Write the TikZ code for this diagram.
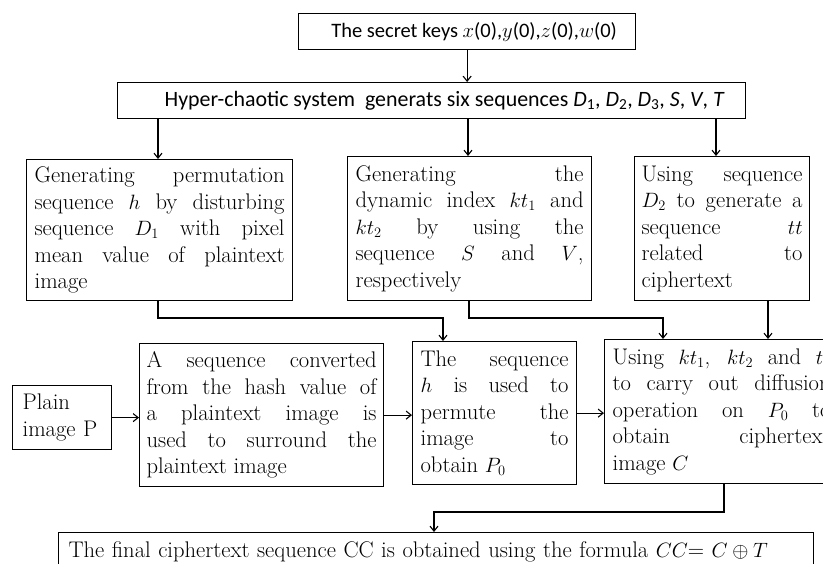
\documentclass[tikz,border=0pt]{standalone}
\usepackage{fontspec}
\newfontfamily\calfont{Carlito}
\usetikzlibrary{arrows.meta,calc}
\hyphenpenalty=10000 \exhyphenpenalty=10000 \tolerance=10000
\begin{document}
\begin{tikzpicture}[x=1pt,y=-1pt,
  sbox/.style={draw, line width=1.2pt, anchor=north west, inner sep=0pt, align=center,
    font={\calfont\fontsize{20.5}{24}\selectfont}},
  tbox/.style={draw, line width=1.2pt, anchor=north west, inner ysep=0pt, align=justify,
    font={\fontsize{22.6}{26.5}\selectfont}},
  arr/.style={-{Straight Barb[length=5pt,width=8pt]}, line width=1.1pt}]
\clip (0,0) rectangle (823,563);
\fill[white] (0,0) rectangle (823,563);
% top boxes
\node[sbox, minimum width=337pt, minimum height=36pt] (keys) at (298,13)
  {\hspace*{14pt}The secret keys $x$(0),$y$(0),$z$(0),$w$(0)};
\node[sbox, minimum width=628pt, minimum height=36pt, font={\calfont\fontsize{21.9}{24}\selectfont}] (hyper) at (117,82)
  {\hspace*{26pt}Hyper-chaotic system\ \ generats six sequences \textit{D}\textsubscript{1}, \textit{D}\textsubscript{2}, \textit{D}\textsubscript{3}, \textit{S}, \textit{V}, \textit{T}};
% second row
\node[tbox, inner xsep=8pt, text width=250pt, minimum height=141pt] (gen1) at (26,159)
  {Generating permutation\linebreak sequence $h$ by disturbing\linebreak sequence $D_1$ with pixel\linebreak mean value of plaintext\linebreak image};
\node[tbox, inner xsep=8pt, text width=228pt, minimum height=144pt] (gen2) at (347,156)
  {Generating the\linebreak dynamic index $kt_1$ and\linebreak $kt_2$ by using the\linebreak sequence $S$ and $V$,\linebreak respectively};
\node[tbox, inner xsep=7pt, text width=161pt, minimum height=144pt] (gen3) at (634,156)
  {Using sequence\linebreak $D_2$ to generate a\linebreak sequence $tt$\linebreak related to\linebreak ciphertext};
% third row
\node[tbox, inner xsep=10pt, text width=79pt, minimum height=64pt, align=left] (plain) at (12,385)
  {Plain\\image P};
\node[tbox, inner xsep=7pt, text width=230pt, minimum height=143pt] (hash) at (139,343)
  {A sequence converted\linebreak from the hash value of\linebreak a plaintext image is\linebreak used to surround the\linebreak plaintext image};
\node[tbox, inner xsep=8pt, text width=148pt, minimum height=143pt] (perm) at (412,341)
  {The sequence\linebreak $h$ is used to\linebreak permute the\linebreak image to\linebreak obtain $P_0$};
\node[tbox, inner xsep=8pt, text width=218pt, minimum height=144pt] (diff) at (604,339)
  {Using $kt_1$, $kt_2$ and $tt$\linebreak to carry out diffusion\linebreak operation on $P_0$ to\linebreak obtain ciphertext\linebreak image $C$};
% final
\node[tbox, inner xsep=10pt, inner ysep=9.5pt, text width=735pt, align=left] (final) at (58,532)
  {The final ciphertext sequence CC is obtained using the formula $CC$=\ $C \oplus T$};
% connectors
\draw[arr] (keys.south) -- (keys.south |- hyper.north);
\draw[arr] (hyper.south -| 158,0) -- (gen1.north -| 158,0);
\draw[arr] (hyper.south -| 468,0) -- (gen2.north -| 468,0);
\draw[arr] (hyper.south -| 716,0) -- (gen3.north -| 716,0);
\draw[arr] (gen1.south -| 158,0) -- (158,318) -| (perm.north -| 443,0);
\draw[arr] (gen2.south -| 469,0) -- (469,318) -| (diff.north -| 663,0);
\draw[arr] (gen3.south -| 768,0) -- (diff.north -| 768,0);
\draw[arr] (plain.east) -- (plain.east -| hash.west);
\draw[arr] (hash.east) -- (hash.east -| perm.west);
\draw[arr] (perm.east) -- (perm.east -| diff.west);
\draw[arr] (diff.south -| 724,0) -- (724,512) -| (final.north -| 434,0);
\end{tikzpicture}
\end{document}
